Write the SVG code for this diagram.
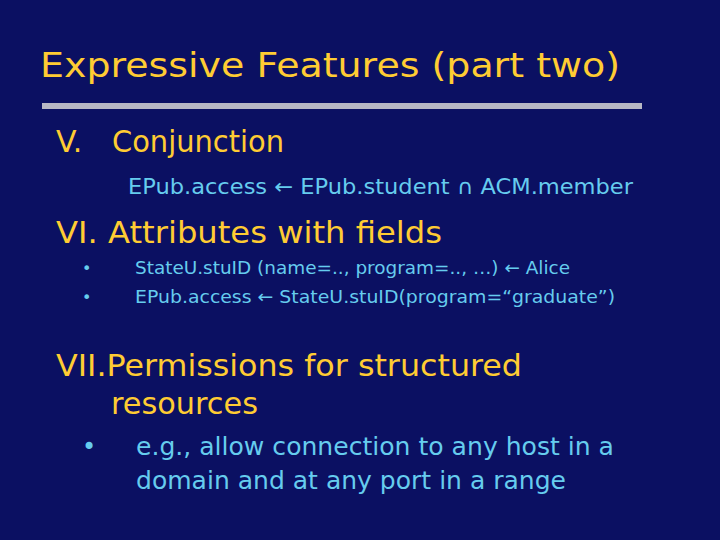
<svg xmlns="http://www.w3.org/2000/svg" width="720" height="540" viewBox="0 0 720 540">
<style>
.h{font-family:"DejaVu Sans","Liberation Sans",sans-serif;fill:#ffcc33}
.s{font-family:"DejaVu Sans","Liberation Sans",sans-serif;fill:#66ccee}
</style>
<rect width="720" height="540" fill="#0b1062"/>
<text class="h" x="40" y="77" font-size="34" textLength="580" lengthAdjust="spacingAndGlyphs">Expressive Features (part two)</text>
<rect x="42" y="103" width="600" height="6" fill="#b8b8c4"/>
<text class="h" x="56" y="152" font-size="30">V.</text>
<text class="h" x="112" y="152" font-size="30" textLength="172" lengthAdjust="spacingAndGlyphs">Conjunction</text>
<text class="s" x="128" y="194" font-size="21" textLength="505" lengthAdjust="spacingAndGlyphs">EPub.access ← EPub.student ∩  ACM.member</text>
<text class="h" x="56" y="243" font-size="30" textLength="386" lengthAdjust="spacingAndGlyphs">VI. Attributes with fields</text>
<text class="s" x="82" y="274" font-size="16">•</text>
<text class="s" x="82" y="303" font-size="16">•</text>
<text class="s" x="135" y="274" font-size="18" textLength="435" lengthAdjust="spacingAndGlyphs">StateU.stuID (name=.., program=.., …) ← Alice</text>
<text class="s" x="135" y="303" font-size="18" textLength="480" lengthAdjust="spacingAndGlyphs">EPub.access  ← StateU.stuID(program=“graduate”)</text>
<text class="h" x="56" y="376" font-size="30" textLength="466" lengthAdjust="spacingAndGlyphs">VII.Permissions for structured</text>
<text class="h" x="111" y="414" font-size="30" textLength="147" lengthAdjust="spacingAndGlyphs">resources</text>
<text class="s" x="82" y="455" font-size="24">•</text>
<text class="s" x="136" y="455" font-size="25" textLength="478" lengthAdjust="spacingAndGlyphs">e.g., allow connection to any host in a</text>
<text class="s" x="136" y="489" font-size="25" textLength="430" lengthAdjust="spacingAndGlyphs">domain and at any port in a range</text>
</svg>
